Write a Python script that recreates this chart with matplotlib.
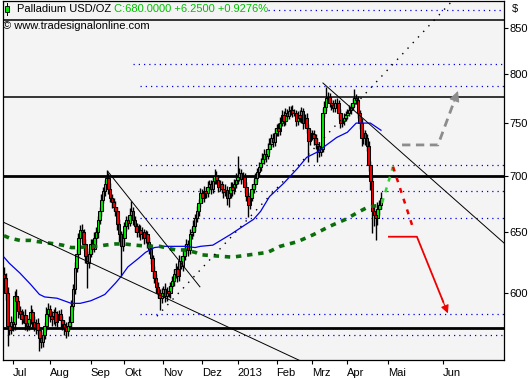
import numpy as np
import matplotlib.pyplot as plt
from matplotlib.patches import Rectangle
from matplotlib.ticker import FixedLocator, FixedFormatter, NullLocator

plt.rcParams['font.family'] = ['Liberation Sans', 'DejaVu Sans']

# ---------- data ----------
# daily closes, bar index 0 = end of June 2012, last bar = 680.00
closes = [
    612, 600, 575, 572, 578, 576, 598, 594, 586, 584,
    580, 583, 577, 575, 580, 585, 578, 574, 577, 572,
    566, 563, 568, 575, 584, 588, 582, 580, 585, 578,
    582, 584, 579, 576, 574, 571, 575, 578, 590, 603,
    620, 632, 645, 652, 650, 640, 630, 624, 632, 640,
    636, 645, 650, 660, 668, 678, 686, 692, 698, 688,
    680, 676, 672, 668, 657, 648, 638, 645, 655, 660,
    658, 665, 668, 660, 655, 650, 652, 648, 650, 645,
    648, 642, 636, 628, 618, 612, 605, 600, 596, 600,
    603, 598, 602, 600, 606, 610, 615, 619, 614, 626,
    622, 630, 636, 640, 635, 648, 650, 655, 662, 668,
    675, 684, 680, 686, 684, 690, 692, 688, 695, 700,
    696, 690, 692, 688, 685, 687, 680, 684, 690, 687,
    692, 696, 699, 702, 697, 699, 690, 682, 674, 680,
    688, 692, 698, 703, 708, 712, 715, 720, 718, 725,
    730, 735, 732, 740, 745, 742, 750, 758, 752, 760,
    757, 762, 763, 760, 760, 752, 758, 755, 762, 750,
    755, 745, 733, 740, 739, 735, 730, 728, 722, 725,
    760, 766, 775, 776, 770, 768, 765, 770, 770, 760,
    750, 752, 755, 758, 760, 763, 766, 770, 775, 773,
    760, 750, 735, 740, 735, 728, 710, 695, 668, 665,
    662, 670, 673.75, 680,
]
first_open = 615

wick_up = [
    6, 4, 5, 3, 4, 3, 4, 5, 3, 4,
    4, 3, 5, 4, 3, 6, 3, 4, 3, 4,
    3, 4, 4, 3, 5, 4, 3, 4, 3, 4,
    4, 3, 4, 3, 3, 4, 3, 4, 5, 4,
    5, 4, 4, 4, 5, 3, 4, 4, 5, 4,
    4, 5, 4, 4, 4, 5, 4, 4, 7, 4,
    5, 3, 4, 5, 4, 4, 3, 5, 4, 4,
    4, 6, 9, 4, 4, 3, 5, 4, 4, 3,
    4, 3, 4, 4, 3, 4, 3, 4, 3, 4,
    3, 5, 3, 4, 3, 4, 4, 5, 3, 5,
    4, 5, 4, 4, 3, 5, 4, 5, 4, 5,
    4, 5, 4, 5, 4, 5, 4, 4, 5, 6,
    4, 5, 4, 3, 4, 5, 4, 3, 4, 4,
    5, 6, 19, 5, 4, 4, 3, 4, 3, 4,
    4, 5, 4, 4, 5, 4, 6, 5, 4, 6,
    5, 4, 5, 5, 4, 5, 6, 5, 4, 5,
    4, 5, 4, 5, 4, 3, 4, 5, 4, 3,
    4, 5, 4, 4, 3, 4, 4, 5, 4, 4,
    5, 6, 11, 5, 4, 4, 5, 4, 5, 3,
    4, 4, 5, 4, 4, 5, 4, 5, 9, 4,
    4, 3, 5, 4, 3, 4, 5, 4, 4, 6,
    5, 6, 4, 5,
]
wick_dn = [
    4, 5, 15, 4, 3, 5, 4, 4, 5, 3,
    4, 3, 5, 4, 3, 4, 4, 3, 5, 4,
    10, 5, 4, 3, 4, 3, 4, 5, 4, 3,
    4, 3, 5, 4, 6, 5, 4, 3, 4, 3,
    4, 3, 4, 3, 4, 5, 6, 20, 4, 3,
    4, 3, 4, 5, 3, 4, 3, 4, 3, 5,
    4, 5, 4, 4, 5, 6, 24, 4, 3, 4,
    5, 3, 4, 4, 5, 4, 4, 5, 4, 5,
    4, 5, 4, 5, 6, 4, 5, 4, 9, 4,
    3, 5, 4, 3, 4, 3, 4, 3, 5, 4,
    3, 4, 3, 4, 5, 3, 4, 3, 4, 3,
    4, 3, 5, 4, 4, 3, 4, 5, 4, 3,
    4, 5, 4, 4, 5, 3, 6, 8, 4, 5,
    4, 3, 4, 4, 5, 4, 6, 5, 11, 4,
    3, 4, 3, 4, 3, 4, 3, 4, 5, 3,
    4, 3, 5, 4, 3, 5, 4, 3, 5, 4,
    4, 3, 4, 4, 3, 5, 4, 4, 5, 6,
    4, 5, 20, 4, 5, 6, 5, 15, 5, 4,
    3, 4, 4, 5, 4, 5, 4, 4, 5, 6,
    5, 4, 4, 3, 4, 3, 4, 3, 4, 4,
    5, 6, 7, 5, 6, 5, 6, 8, 19, 10,
    19, 6, 5, 4,
]

# 50 day average (blue)
ma50_x = [0, 3, 9, 15, 20, 23, 30, 36, 38, 43, 49, 54, 57, 63, 66, 70, 76, 80,
          85, 91, 97, 102, 108, 111, 118, 128, 135, 141, 145, 150, 158, 166,
          171, 177, 180, 188, 194, 199, 207, 213]
ma50_y = [629, 624, 616, 607, 599, 597, 596, 593, 592, 592, 594, 597, 599, 608,
          613, 621, 628, 633, 637, 638, 638, 638, 637, 638, 639, 648, 655, 661,
          668, 681, 693, 707, 717, 722, 726, 736, 741, 750, 750, 743]

# 200 day average (green dotted)
ma200_x = [0, 3, 9, 15, 19, 24, 29, 33, 38, 43, 47, 53, 57, 63, 68, 74, 82, 88,
           97, 102, 108, 111, 129, 149, 156, 166, 175, 184, 193, 201, 206, 211]
ma200_y = [647, 645, 643, 643, 642, 641, 640, 639, 637, 637, 638, 638, 639, 640,
           640, 639, 638, 638, 635, 635, 633, 631, 629, 633, 638, 642, 648, 655,
           661, 668, 672, 673]

# horizontal levels
solid_thin = [859, 776.5]
solid_thick = [700, 573.3]
dotted_lv = [870, 810.5, 787, 710, 686, 662, 583.6, 568]
dotted_from = [149, 73, 77, 77, 77, 77, 77, -1]

# trend lines (bar, price)
trend_a_x, trend_a_y = [-1, 170], [659, 547.5]
trend_b_x, trend_b_y = [58.8, 110.7], [703.6, 605.0]
trend_c_x, trend_c_y = [180.2, 290], [790.5, 631]
trend_d_x, trend_d_y = [86.4, 253.7], [582.1, 881.4]

# projections
proj_green_x, proj_green_y = [213.6, 219.8], [675.3, 708.3]
proj_red_x, proj_red_y = [219.8, 231.1], [708.3, 653.6]
arrow_red_x, arrow_red_y = [217.5, 233.3, 250.8], [646.1, 646.1, 584.3]
arrow_grey_x, arrow_grey_y = [224.9, 245.2, 256.5], [728.8, 728.8, 782.3]

y_ticks = [600, 650, 700, 750, 800, 850]
month_pos = [5, 26, 49, 68, 90, 112, 132, 154, 174, 194, 217, 248]
month_lbl = ['Jul', 'Aug', 'Sep', 'Okt', 'Nov', 'Dez', '2013', 'Feb', 'Mrz',
             'Apr', 'Mai', 'Jun']


def arrow_line(ax, xs, ys, color, lw, ls, head):
    # polyline whose last segment ends in a filled head
    ax.plot(xs[:-1] + [xs[-2] + 0.85 * (xs[-1] - xs[-2])],
            ys[:-1] + [ys[-2] * (ys[-1] / ys[-2]) ** 0.85],
            color=color, lw=lw, linestyle=ls, zorder=5)
    ax.annotate('', xy=(xs[-1], ys[-1]),
                xytext=(xs[-2] + 0.8 * (xs[-1] - xs[-2]),
                        ys[-2] * (ys[-1] / ys[-2]) ** 0.8),
                arrowprops=dict(arrowstyle='-|>', color=color, lw=0.8,
                                mutation_scale=head, shrinkA=0, shrinkB=0),
                zorder=5)


# ---------- figure ----------
fig = plt.figure(figsize=(5.32, 3.8), dpi=100)
ax = fig.add_axes([3 / 532, 20 / 380, 501 / 532, 359 / 380])
ax.set_facecolor('#f4f4f4')
ax.set_yscale('log')
ax.set_ylim(549.6, 880.3)
ax.set_xlim(-0.56, 282.5)

# levels
for lv, x0 in zip(dotted_lv, dotted_from):
    ax.plot([x0, 300], [lv, lv], color='#0000ee', lw=0.9,
            linestyle=(0, (1, 3.2)), zorder=1)
for lv in solid_thin:
    ax.axhline(lv, color='black', lw=1.1, zorder=2)
for lv in solid_thick:
    ax.axhline(lv, color='black', lw=2.0, zorder=2)

# candles
c = np.array(closes, dtype=float)
o = np.concatenate([[first_open], c[:-1]])
x = np.arange(len(c))
hi = np.maximum(o, c) + np.array(wick_up)
lo = np.minimum(o, c) - np.array(wick_dn)
ax.vlines(x, lo, hi, color='black', lw=1.0, zorder=3)
up = c >= o
ax.bar(x[up], (c - o)[up], bottom=o[up], width=1.45, color='#00e600',
       edgecolor='black', lw=0.75, zorder=3)
ax.bar(x[~up], (o - c)[~up], bottom=c[~up], width=1.45, color='#ee0000',
       edgecolor='black', lw=0.75, zorder=3)

# averages
ax.plot(ma50_x, ma50_y, color='#0000ee', lw=0.9, zorder=4)
ax.plot(ma200_x, ma200_y, color='#0a6e0a', lw=2.6, linestyle=(0, (1.5, 1.6)),
        zorder=4)

# trend lines
ax.plot(trend_a_x, trend_a_y, color='black', lw=0.7, zorder=4)
ax.plot(trend_b_x, trend_b_y, color='black', lw=0.7, zorder=4)
ax.plot(trend_c_x, trend_c_y, color='black', lw=0.7, zorder=4)
ax.plot(trend_d_x, trend_d_y, color='black', lw=1.0,
        linestyle=(0, (1, 4.5)), zorder=4)

# projections
ax.plot(proj_green_x, proj_green_y, color='#33cc33', lw=1.8,
        linestyle=(0, (2, 2.5)), zorder=5)
ax.plot(proj_red_x, proj_red_y, color='#ee0000', lw=1.8,
        linestyle=(0, (2, 2.5)), zorder=5)
arrow_line(ax, arrow_red_x, arrow_red_y, '#ee0000', 1.3, '-', 12)
arrow_line(ax, arrow_grey_x, arrow_grey_y, '#8c8c8c', 2.0, (0, (3, 2)), 16)

# axes
ax.yaxis.tick_right()
ax.yaxis.set_major_locator(FixedLocator(y_ticks))
ax.yaxis.set_major_formatter(FixedFormatter([str(v) for v in y_ticks]))
ax.yaxis.set_minor_locator(NullLocator())
ax.tick_params(axis='y', direction='out', length=3, pad=1, labelsize=8)
ax.set_xticks(month_pos)
ax.set_xticklabels(month_lbl, ha='left')
ax.tick_params(axis='x', direction='out', length=3, pad=3, labelsize=8)
for s in ax.spines.values():
    s.set_color('black')
    s.set_linewidth(0.9)

# header
fig.text(512 / 532, 1 - 9 / 380, '$', fontsize=8, va='center')
fig.patches.append(Rectangle((5 / 532, 1 - 12 / 380), 4 / 532, 6 / 380,
                             transform=fig.transFigure, fc='#00e600',
                             ec='black', lw=0.6, zorder=6))
fig.lines.append(plt.Line2D([7 / 532, 7 / 532], [1 - 15 / 380, 1 - 3 / 380],
                            transform=fig.transFigure, color='black', lw=0.7,
                            zorder=5))
title = fig.text(17 / 532, 1 - 9 / 380, 'Palladium USD/OZ', fontsize=8,
                 va='center')
fig.canvas.draw()
fig.text((title.get_window_extent().x1 + 3) / 532, 1 - 9 / 380,
         'C:680.0000 +6.2500 +0.9276%', fontsize=8, va='center',
         color='#00c000')
fig.text(3 / 532, 1 - 26 / 380, '\u00a9 www.tradesignalonline.com', fontsize=8,
         va='center')

fig.savefig('out.png', dpi=100)
